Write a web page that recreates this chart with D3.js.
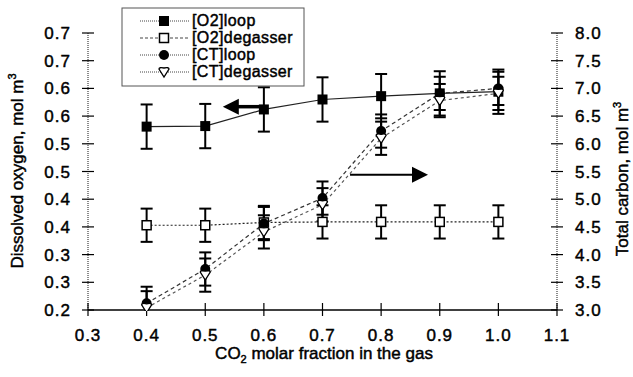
<!DOCTYPE html>
<html>
<head>
<meta charset="utf-8">
<script src="https://cdn.jsdelivr.net/npm/d3@7"></script>
<style>
  body { margin: 0; background: #fff; }
  text { font-family: "Liberation Sans", Arial, sans-serif; fill: #000; stroke: #000; stroke-width: 0.45px; }
</style>
</head>
<body>
<script>
// data
const co2 = [0.4, 0.5, 0.6, 0.7, 0.8, 0.9, 1.0];
const o2Loop = [0.531, 0.532, 0.562, 0.58, 0.586, 0.591, 0.594];
const o2Degasser = [0.353, 0.353, 0.358, 0.359, 0.359, 0.359, 0.359];
const ctLoop = [3.12, 3.74, 4.56, 5.02, 6.23, 6.91, 7.0];
const ctDegasser = [3.04, 3.63, 4.41, 4.9, 6.1, 6.78, 6.91];
const o2LoopErr = 0.04, o2DegErr = 0.03, ctErr = 0.3;
const xTicks = [0.3, 0.4, 0.5, 0.6, 0.7, 0.8, 0.9, 1.0, 1.1];
const leftTicks = d3.range(0, 11).map(i => 0.2 + i * 0.05);
const rightTicks = d3.range(0, 11).map(i => 3.0 + i * 0.5);
const legendNames = ["[O2]loop", "[O2]degasser", "[CT]loop", "[CT]degasser"];

const W = 633, H = 377;
const margin = {top: 33, right: 76, bottom: 67, left: 88};

const svg = d3.select("body").append("svg")
  .attr("width", W).attr("height", H);

let x = d3.scaleLinear().domain([0.3, 1.1]).range([margin.left, W - margin.right]);
let yL = d3.scaleLinear().domain([0.2, 0.7]).range([H - margin.bottom, margin.top]);
let yR = d3.scaleLinear().domain([3.0, 8.0]).range([H - margin.bottom, margin.top]);

const fmt = v => (Math.round(v * 10 + 1e-6) / 10).toFixed(1);

// axis lines
svg.append("line").attr("x1", x(0.3)).attr("x2", x(0.3)).attr("y1", yL(0.7)).attr("y2", yL(0.2))
  .attr("stroke", "#666").attr("stroke-width", 1.5).attr("stroke-dasharray", "1,1");
svg.append("line").attr("x1", x(1.1)).attr("x2", x(1.1)).attr("y1", yR(8)).attr("y2", yR(3))
  .attr("stroke", "#666").attr("stroke-width", 1.5).attr("stroke-dasharray", "1,1");
svg.append("line").attr("x1", x(0.3)).attr("x2", x(1.1)).attr("y1", yL(0.2)).attr("y2", yL(0.2))
  .attr("stroke", "#000").attr("stroke-width", 1.5);

// ticks (crossing the axes)
svg.append("g").selectAll("line").data(xTicks).join("line")
  .attr("x1", d => x(d)).attr("x2", d => x(d))
  .attr("y1", yL(0.2) - 7).attr("y2", yL(0.2) + 6)
  .attr("stroke", "#000").attr("stroke-width", 1.2);
svg.append("g").selectAll("line").data(leftTicks).join("line")
  .attr("x1", x(0.3) - 6).attr("x2", x(0.3) + 6)
  .attr("y1", d => yL(d)).attr("y2", d => yL(d))
  .attr("stroke", "#000").attr("stroke-width", 1.2);
svg.append("g").selectAll("line").data(rightTicks).join("line")
  .attr("x1", x(1.1) - 6).attr("x2", x(1.1) + 6)
  .attr("y1", d => yR(d)).attr("y2", d => yR(d))
  .attr("stroke", "#000").attr("stroke-width", 1.2);

// tick labels
svg.append("g").selectAll("text").data(xTicks).join("text")
  .attr("x", d => x(d)).attr("y", 341)
  .attr("text-anchor", "middle").attr("font-size", 17).attr("letter-spacing", 1)
  .text(d => d.toFixed(1));
svg.append("g").selectAll("text").data(leftTicks).join("text")
  .attr("x", 71).attr("y", d => yL(d) + 6)
  .attr("text-anchor", "end").attr("font-size", 17).attr("letter-spacing", 1)
  .text(d => fmt(d));
svg.append("g").selectAll("text").data(rightTicks).join("text")
  .attr("x", 575).attr("y", d => yR(d) + 6)
  .attr("text-anchor", "start").attr("font-size", 17).attr("letter-spacing", 1)
  .text(d => d.toFixed(1));

// axis titles
const xt = svg.append("text").attr("x", 324).attr("y", 359)
  .attr("text-anchor", "middle").attr("font-size", 17);
xt.append("tspan").text("CO");
xt.append("tspan").attr("font-size", 11).attr("dy", 4).text("2");
xt.append("tspan").attr("dy", -4).text(" molar fraction in the gas");

const lt = svg.append("text").attr("transform", "translate(23,171) rotate(-90)")
  .attr("text-anchor", "middle").attr("font-size", 17);
lt.append("tspan").text("Dissolved oxygen, mol m");
lt.append("tspan").attr("font-size", 11).attr("dy", -7).text("3");

const rt = svg.append("text").attr("transform", "translate(628,179) rotate(-90)")
  .attr("text-anchor", "middle").attr("font-size", 17);
rt.append("tspan").text("Total carbon, mol m");
rt.append("tspan").attr("font-size", 11).attr("dy", -7).text("3");

// series
const series = [
  {vals: o2Loop, y: yL, err: o2LoopErr, dash: null, color: "#222", marker: "fsquare"},
  {vals: o2Degasser, y: yL, err: o2DegErr, dash: "2,2", color: "#222", marker: "osquare"},
  {vals: ctLoop, y: yR, err: ctErr, dash: "4,3", color: "#333", marker: "fcircle"},
  {vals: ctDegasser, y: yR, err: ctErr, dash: "3,3", color: "#555", marker: "odiamond"}
];

svg.append("clipPath").attr("id", "plot").append("rect")
  .attr("x", x(0.3)).attr("y", 0).attr("width", x(1.1) - x(0.3)).attr("height", yL(0.2) + 1);

const line = s => d3.line().x((d, i) => x(co2[i])).y(d => s.y(d));

function drawMarker(g, type, cx, cy) {
  if (type === "fsquare") {
    g.append("rect").attr("x", cx - 5).attr("y", cy - 5).attr("width", 10).attr("height", 10).attr("fill", "#000");
  } else if (type === "osquare") {
    g.append("rect").attr("x", cx - 4.5).attr("y", cy - 4.5).attr("width", 9).attr("height", 9)
      .attr("fill", "#fff").attr("stroke", "#000").attr("stroke-width", 1.5);
  } else if (type === "fcircle") {
    g.append("circle").attr("cx", cx).attr("cy", cy).attr("r", 5).attr("fill", "#000");
  } else {
    g.append("path").attr("d", `M${cx - 5},${cy - 3}Q${cx - 5},${cy - 5} ${cx},${cy - 4}Q${cx + 5},${cy - 5} ${cx + 5},${cy - 3}L${cx},${cy + 5}Z`)
      .attr("fill", "#fff").attr("stroke", "#000").attr("stroke-width", 1.3);
  }
}

const plot = svg.append("g").attr("clip-path", "url(#plot)");

series.forEach(s => {
  plot.append("path").datum(s.vals)
    .attr("d", line(s))
    .attr("fill", "none").attr("stroke", s.color).attr("stroke-width", 1.2)
    .attr("stroke-dasharray", s.dash);
});

series.forEach(s => {
  const g = plot.append("g");
  s.vals.forEach((v, i) => {
    const cx = x(co2[i]);
    const t = s.y(v + s.err), b = s.y(v - s.err);
    g.append("line").attr("x1", cx).attr("x2", cx).attr("y1", t).attr("y2", b)
      .attr("stroke", "#000").attr("stroke-width", 2);
    [t, b].forEach(yy => g.append("line").attr("x1", cx - 6).attr("x2", cx + 6)
      .attr("y1", yy).attr("y2", yy).attr("stroke", "#000").attr("stroke-width", 2));
  });
});

series.forEach(s => {
  const g = plot.append("g");
  s.vals.forEach((v, i) => drawMarker(g, s.marker, x(co2[i]), s.y(v)));
});

// arrows pointing to the axis each series belongs to
const arrowL = {from: [0.602, 0.567], to: [0.530, 0.567]};
const arrowR = {from: [0.747, 5.44], to: [0.880, 5.44]};
function arrow(a, ys, w) {
  const x1 = x(a.from[0]), x2 = x(a.to[0]), yy = ys(a.from[1]);
  const dir = Math.sign(x2 - x1);
  svg.append("line").attr("x1", x1).attr("x2", x2 - dir * 12).attr("y1", yy).attr("y2", yy)
    .attr("stroke", "#000").attr("stroke-width", w);
  svg.append("path").attr("d", `M${x2},${yy}L${x2 - dir * 16},${yy - 8}L${x2 - dir * 16},${yy + 8}Z`)
    .attr("fill", "#000");
}
arrow(arrowL, yL, 3.5);
arrow(arrowR, yR, 2);

// legend
const lg = svg.append("g");
lg.append("rect").attr("x", 122).attr("y", 8).attr("width", 182).attr("height", 78)
  .attr("fill", "#fff").attr("stroke", "#555").attr("stroke-width", 1);
legendNames.forEach((n, i) => {
  const yy = 21 + i * 17;
  lg.append("line").attr("x1", 140).attr("x2", 190).attr("y1", yy).attr("y2", yy)
    .attr("stroke", "#444").attr("stroke-width", 1)
    .attr("stroke-dasharray", i === 1 ? "3,2" : "1,1");
  drawMarker(lg, series[i].marker, 164, yy);
  lg.append("text").attr("x", 192).attr("y", yy + 5).attr("font-size", 16).attr("letter-spacing", 0.4).text(n);
});
</script>
</body>
</html>
